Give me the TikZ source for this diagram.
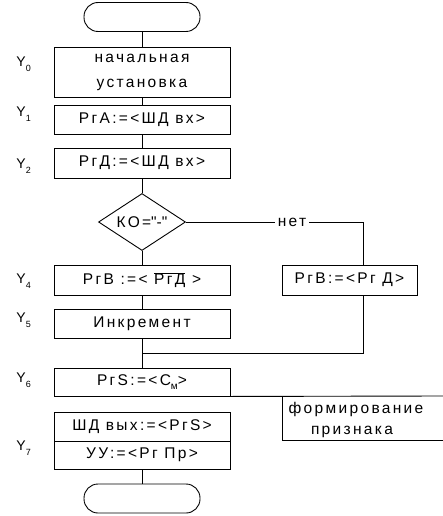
\documentclass[tikz,border=0pt]{standalone}
\usepackage{fontspec}
\setmainfont{Liberation Sans}[LetterSpace=15]
\usetikzlibrary{shapes.geometric}
\begin{document}
\begin{tikzpicture}[x=1pt,y=-1pt, line width=0.9pt,
  txt/.style={font=\fontsize{15.5}{25}\selectfont},
  blk/.style={draw, txt, minimum width=176pt, inner sep=0pt, align=center},
  term/.style={draw, rounded corners=14pt, minimum width=116pt, minimum height=29pt},
  ylab/.style={font=\fontsize{14}{14}\selectfont, anchor=base west, inner sep=0pt}]
\useasboundingbox (0,0) rectangle (443,516);
\newcommand\ysub[1]{Y\raisebox{-5pt}{\fontsize{9}{9}\selectfont #1}}
% main column
\node[term] (t1) at (142,17) {};
\node[blk, minimum height=50pt] (b0) at (142,72) {начальная\\установка};
\node[blk, minimum height=29pt] (b1) at (142,119.5) {РгА:=<ШД вх>};
\node[blk, minimum height=30pt] (b2) at (142,163) {РгД:=<ШД вх>};
\node[draw, diamond, txt, minimum width=87pt, minimum height=57pt, inner sep=0pt, aspect=1.5] (d) at (142,222) {КО=\textquotedbl-\textquotedbl};
\node[blk, minimum height=30pt] (b4) at (142,280) {РгВ :=< $\overline{\mbox{РгД}}$ >};
\node[blk, minimum width=135pt, minimum height=30pt] (r) at (349.5,280) {РгВ:=<Рг Д>};
\node[blk, minimum height=29pt] (b5) at (142,323.5) {Инкремент};
\node[blk, minimum height=28pt] (b6) at (142,382) {РгS:=<С\raisebox{-4pt}{\fontsize{10}{10}\selectfont м}>};
\node[blk, minimum height=29pt] (b7a) at (142,426.5) {ШД вых:=<РгS>};
\node[blk, minimum height=28pt] (b7b) at (142,455) {УУ:=<Рг Пр>};
\node[term] (t2) at (142,498.5) {};
% labels
\node[ylab] (y0) at (16,67) {\ysub{0}};
\node[ylab] (y1) at (16,117) {\ysub{1}};
\node[ylab] (y2) at (16,168) {\ysub{2}};
\node[ylab] (y4) at (16,283) {\ysub{4}};
\node[ylab] (y5) at (16,322) {\ysub{5}};
\node[ylab] (y6) at (16,382) {\ysub{6}};
\node[ylab] (y7) at (16,450) {\ysub{7}};
% connectors
\draw (t1) -- (b0);
\draw (b0) -- (b1);
\draw (b1) -- (b2);
\draw (b2) -- (d);
\draw (d) -- (b4);
\draw (b4) -- (b5);
\draw (b5) -- (b6);
\draw (b7b) -- (t2);
\coordinate (c1) at (363,222);
\coordinate (c2) at (363,353);
\coordinate (m) at (142,353);
\draw (d.east) -- (c1) -- (c1 |- r.north);
\node[txt, fill=white, inner sep=3pt] (no) at (292,222) {нет};
\draw (c1 |- r.south) -- (c2) -- (m);
\coordinate (e1) at (443,396);
\coordinate (f1) at (282,396);
\coordinate (f2) at (282,440);
\coordinate (f3) at (443,440);
\draw (b6.south east) -- (e1);
\draw (f1) -- (f2) -- (f3);
\node[txt] (fa) at (356,409) {формирование};
\node[txt] (fb) at (352,432) {признака};
\end{tikzpicture}
\end{document}
